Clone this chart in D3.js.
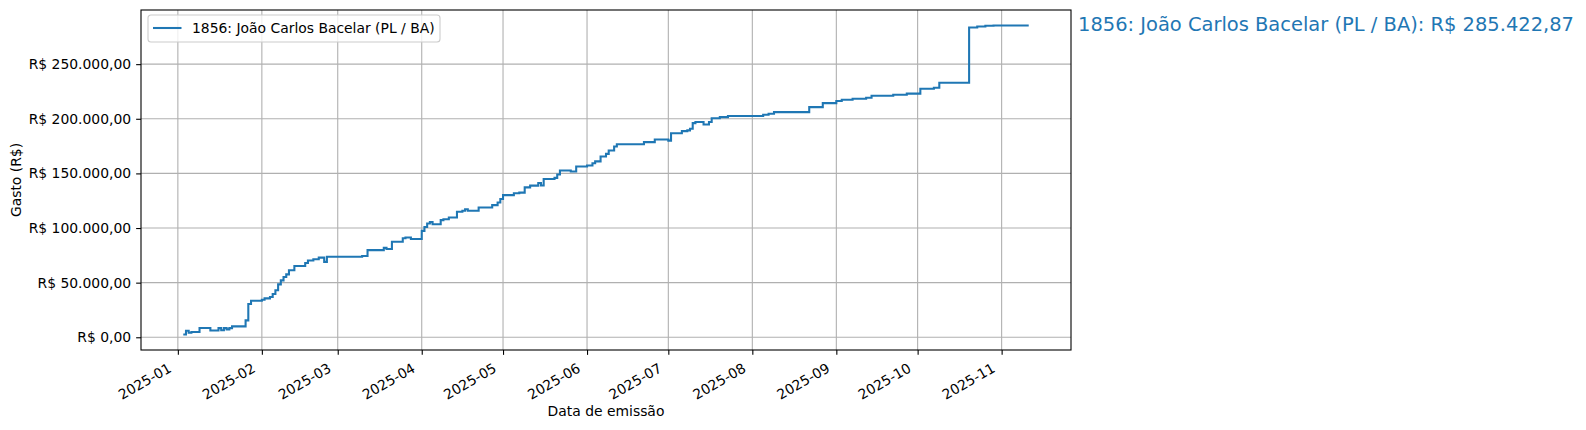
<!DOCTYPE html>
<html>
<head>
<meta charset="utf-8">
<script src="https://cdn.jsdelivr.net/npm/d3@7"></script>
<style>
  body { margin: 0; background: #fff; }
  svg { display: block; font-family: "DejaVu Sans", sans-serif; }
</style>
</head>
<body>
<div id="chart"></div>
<script>
const seriesName = "1856: João Carlos Bacelar (PL / BA)"
const totalLabel = "R$ 285.422,87"

// datas de emissão e gasto acumulado (R$)
const dates = [
  "2025-01-03", "2025-01-04", "2025-01-05", "2025-01-06", "2025-01-09", "2025-01-13",
  "2025-01-16", "2025-01-17", "2025-01-18", "2025-01-19", "2025-01-20", "2025-01-21",
  "2025-01-26", "2025-01-27", "2025-01-28", "2025-02-01", "2025-02-02", "2025-02-04",
  "2025-02-05", "2025-02-06", "2025-02-07", "2025-02-08", "2025-02-09", "2025-02-10",
  "2025-02-11", "2025-02-13", "2025-02-17", "2025-02-18", "2025-02-20", "2025-02-22",
  "2025-02-24", "2025-02-25", "2025-03-10", "2025-03-12", "2025-03-18", "2025-03-19",
  "2025-03-21", "2025-03-25", "2025-03-26", "2025-03-28", "2025-04-01", "2025-04-02",
  "2025-04-03", "2025-04-04", "2025-04-05", "2025-04-08", "2025-04-09", "2025-04-11",
  "2025-04-14", "2025-04-16", "2025-04-17", "2025-04-18", "2025-04-22", "2025-04-27",
  "2025-04-29", "2025-04-30", "2025-05-01", "2025-05-05", "2025-05-07", "2025-05-09",
  "2025-05-11", "2025-05-14", "2025-05-15", "2025-05-16", "2025-05-20", "2025-05-21",
  "2025-05-22", "2025-05-26", "2025-05-28", "2025-06-01", "2025-06-03", "2025-06-04",
  "2025-06-06", "2025-06-08", "2025-06-09", "2025-06-11", "2025-06-12", "2025-06-22",
  "2025-06-26", "2025-07-01", "2025-07-02", "2025-07-06", "2025-07-08", "2025-07-09",
  "2025-07-10", "2025-07-11", "2025-07-14", "2025-07-16", "2025-07-17", "2025-07-20",
  "2025-07-23", "2025-08-05", "2025-08-07", "2025-08-09", "2025-08-22", "2025-08-27",
  "2025-09-01", "2025-09-03", "2025-09-07", "2025-09-12", "2025-09-14", "2025-09-22",
  "2025-09-27", "2025-10-02", "2025-10-07", "2025-10-09", "2025-10-20", "2025-10-23",
  "2025-10-26", "2025-10-29", "2025-11-11"
]
const values = [
  2500, 6000, 4200, 4900, 8500, 6200,
  8400, 6500, 8400, 7200, 8400, 10000,
  15500, 30500, 33500, 34300, 35600, 36800,
  39600, 43000, 48400, 52100, 55100, 57600,
  61300, 65200, 68000, 70300, 71400, 72900,
  69000, 73700, 74400, 79800, 81800, 80800,
  87500, 90600, 91300, 90000, 97400, 101000,
  104100, 105400, 103500, 107200, 108100, 109600,
  114900, 115800, 117200, 115800, 118800, 121000,
  123400, 126500, 130100, 131900, 132400, 137200,
  138800, 141200, 139000, 144900, 145900, 149000,
  152600, 151700, 156300, 157300, 159300, 161000,
  165400, 167900, 171000, 174600, 176700, 178600,
  181000, 180000, 186800, 188700, 189400, 190800,
  196000, 197000, 194800, 197100, 200500, 201500,
  202500, 203700, 204600, 206100, 210700, 214300,
  216200, 217400, 218300, 219300, 221100, 222000,
  223000, 227500, 228400, 233000, 283600, 284500,
  285200, 285422.87, 285422.87
]
const yTicks = [0, 50000, 100000, 150000, 200000, 250000]

const width = 1586, height = 430
const margin = { top: 10, right: 515, bottom: 80, left: 141 }
const color = "#1f77b4"

const parseDate = d3.timeParse("%Y-%m-%d")
const data = dates.map((d, i) => ({ date: parseDate(d), value: values[i] }))

const ptBR = d3.formatLocale({ decimal: ",", thousands: ".", grouping: [3], currency: ["R$ ", ""] })
const fmtMoney = ptBR.format("$,.2f")

const svg = d3.select("#chart").append("svg")
  .attr("width", width)
  .attr("height", height)

// margens de 5% como o matplotlib
const [x0, x1] = d3.extent(data, d => d.date)
const xPad = (x1 - x0) * 0.05
const x = d3.scaleTime()
  .domain([new Date(+x0 - xPad), new Date(+x1 + xPad)])
  .range([margin.left, width - margin.right])

const [y0, y1] = d3.extent(data, d => d.value)
const yPad = (y1 - y0) * 0.05
const y = d3.scaleLinear()
  .domain([y0 - yPad, y1 + yPad])
  .range([height - margin.bottom, margin.top])

const monthTicks = d3.timeMonth.range(new Date(2025, 0, 1), new Date(2025, 10, 2))

// grade
const grid = svg.append("g").attr("stroke", "#b0b0b0").attr("stroke-width", 1.1)
grid.selectAll("line.v").data(monthTicks).join("line")
  .attr("x1", d => x(d)).attr("x2", d => x(d))
  .attr("y1", margin.top).attr("y2", height - margin.bottom)
grid.selectAll("line.h").data(yTicks).join("line")
  .attr("x1", margin.left).attr("x2", width - margin.right)
  .attr("y1", d => y(d)).attr("y2", d => y(d))

// linha em degraus
const line = d3.line()
  .x(d => x(d.date))
  .y(d => y(d.value))
  .curve(d3.curveStepAfter)

svg.append("path")
  .datum(data)
  .attr("fill", "none")
  .attr("stroke", color)
  .attr("stroke-width", 2.08)
  .attr("stroke-linejoin", "miter")
  .attr("d", line)

// eixos
const xAxis = svg.append("g")
  .attr("transform", `translate(0,${height - margin.bottom})`)
  .call(d3.axisBottom(x).tickValues(monthTicks).tickFormat(d3.timeFormat("%Y-%m")).tickSize(4.86).tickPadding(4))
xAxis.select(".domain").remove()
xAxis.selectAll(".tick line").attr("stroke", "#000").attr("stroke-width", 1.1)
xAxis.selectAll(".tick text")
  .attr("font-size", 13.9)
  .attr("font-family", "DejaVu Sans")
  .attr("fill", "#000")
  .attr("text-anchor", "end")
  .attr("dy", null)
  .attr("y", null)
  .attr("transform", "translate(-6,21) rotate(-30)")

const yAxis = svg.append("g")
  .attr("transform", `translate(${margin.left},0)`)
  .call(d3.axisLeft(y).tickValues(yTicks).tickFormat(fmtMoney).tickSize(4.86).tickPadding(5))
yAxis.select(".domain").remove()
yAxis.selectAll(".tick line").attr("stroke", "#000").attr("stroke-width", 1.1)
yAxis.selectAll(".tick text")
  .attr("font-size", 13.9)
  .attr("font-family", "DejaVu Sans")
  .attr("fill", "#000")

// moldura
svg.append("rect")
  .attr("x", margin.left)
  .attr("y", margin.top)
  .attr("width", width - margin.right - margin.left)
  .attr("height", height - margin.bottom - margin.top)
  .attr("fill", "none")
  .attr("stroke", "#000")
  .attr("stroke-width", 1.1)

// rótulos dos eixos
svg.append("text")
  .attr("x", (margin.left + width - margin.right) / 2)
  .attr("y", 416)
  .attr("text-anchor", "middle")
  .attr("font-size", 13.9)
  .text("Data de emissão")

svg.append("text")
  .attr("transform", `translate(21,${(margin.top + height - margin.bottom) / 2}) rotate(-90)`)
  .attr("text-anchor", "middle")
  .attr("font-size", 13.9)
  .text("Gasto (R$)")

// legenda
const legend = svg.append("g").attr("transform", "translate(148,15)")
legend.append("rect")
  .attr("width", 292).attr("height", 27)
  .attr("rx", 3)
  .attr("fill", "#fff").attr("fill-opacity", 0.8)
  .attr("stroke", "#cccccc")
  .attr("stroke-width", 1.1)
legend.append("line")
  .attr("x1", 5).attr("x2", 33.5)
  .attr("y1", 13).attr("y2", 13)
  .attr("stroke", color).attr("stroke-width", 2.08)
legend.append("text")
  .attr("x", 44).attr("y", 18)
  .attr("font-size", 13.9)
  .text(seriesName)

// total ao lado do gráfico
svg.append("text")
  .attr("x", 1078)
  .attr("y", 31)
  .attr("font-size", 19.6)
  .attr("fill", color)
  .attr("textLength", 496)
  .attr("lengthAdjust", "spacingAndGlyphs")
  .text(`${seriesName}: ${totalLabel}`)
</script>
</body>
</html>
